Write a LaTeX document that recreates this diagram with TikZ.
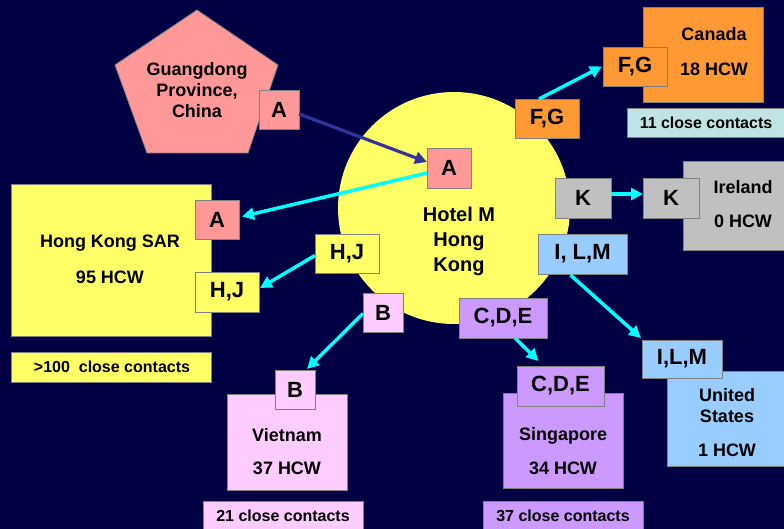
\documentclass[tikz,border=0pt]{standalone}
\usepackage{fontspec}
\setmainfont{Liberation Sans}
\usetikzlibrary{arrows.meta,calc}
\definecolor{bg}{RGB}{0,0,66}
\definecolor{bordergray}{RGB}{128,128,128}
\definecolor{salmon}{RGB}{255,153,153}
\definecolor{yel}{RGB}{255,255,102}
\definecolor{orng}{RGB}{255,153,51}
\definecolor{lcyan}{RGB}{192,228,228}
\definecolor{gry}{RGB}{192,192,192}
\definecolor{lblue}{RGB}{153,204,255}
\definecolor{purp}{RGB}{204,153,255}
\definecolor{pnk}{RGB}{255,204,255}
\definecolor{cyarr}{RGB}{0,255,255}
\definecolor{darr}{RGB}{51,51,153}
\newcommand{\rbox}[7]{\node[boxst, fill=#2, minimum width=#5pt-#3pt, minimum height=#6pt-#4pt] (#1) at ({(#3+#5)/2},{(#4+#6)/2}) {#7};}
\tikzset{
  boxst/.style={draw=bordergray, line width=0.8pt, inner sep=0pt, outer sep=0pt, font=\fontsize{22}{25}\selectfont\bfseries},
  lbl/.style={inner sep=0pt, font=\fontsize{18}{21}\selectfont\bfseries, align=center},
  cnt/.style={inner sep=0pt, font=\fontsize{16}{19}\selectfont\bfseries},
  cyarrow/.style={draw=cyarr, line width=3.5pt, -{Triangle[length=12pt,width=12pt]}},
  darrow/.style={draw=darr, line width=3.2pt, -{Triangle[length=12pt,width=12pt]}},
}
\begin{document}
\begin{tikzpicture}[x=1pt,y=-1pt]
\useasboundingbox (0,0) rectangle (784,529);
\fill[bg] (0,0) rectangle (784,529);
% hotel circle
\node[circle, fill=yel, minimum size=232pt, inner sep=0pt] (circ) at (454,208) {};
\node[lbl, font=\fontsize{20}{25}\selectfont\bfseries] (hotel) at (459,241) {Hotel M\\Hong\\Kong};
% Guangdong
\filldraw[fill=salmon, draw=bordergray, line width=0.8pt] (197,10) -- (278,65) -- (248,153) -- (147,153) -- (115,65) -- cycle;
\node[lbl] (gd) at (197,90) {Guangdong\\Province,\\China};
\rbox{aG}{salmon}{259}{90}{299}{129}{A}
% Canada
\rbox{can}{orng}{643}{7}{763}{102}{}
\node[lbl] (canl) at (714,34) {Canada};
\node[lbl] (canh) at (714,69) {18 HCW};
\rbox{fgCa}{orng}{603}{47}{667}{86}{F,G}
\rbox{canc}{lcyan}{627}{108}{790}{137}{}
\node[cnt] (cancl) at (706,123) {11 close contacts};
% Ireland
\rbox{ire}{gry}{683}{161}{790}{250}{}
\node[lbl] (irel) at (743,187) {Ireland};
\node[lbl] (ireh) at (743,221) {0 HCW};
\rbox{kI}{gry}{643}{178}{699}{218}{K}
% United States
\rbox{us}{lblue}{667}{371}{790}{466}{}
\node[lbl] (usl) at (727,406) {United\\States};
\node[lbl] (ush) at (727,450) {1 HCW};
\rbox{ilmU}{lblue}{642}{340}{722}{378}{I,L,M}
% Singapore
\rbox{sg}{purp}{503}{393}{623}{488}{}
\node[lbl] (sgl) at (563,436) {Singapore};
\node[lbl] (sgh) at (563,468) {34 HCW};
\rbox{cdeS}{purp}{517}{366}{604}{406}{C,D,E}
\rbox{sgc}{purp}{483}{501}{643}{535}{}
\node[cnt] (sgcl) at (563,516) {37 close contacts};
% Vietnam
\rbox{vn}{pnk}{227}{394}{347}{490}{}
\node[lbl] (vnl) at (287,435) {Vietnam};
\node[lbl] (vnh) at (287,468) {37 HCW};
\rbox{bV}{pnk}{275}{370}{315}{409}{B}
\rbox{vnc}{pnk}{203}{501}{363}{535}{}
\node[cnt] (vncl) at (283,516) {21 close contacts};
% Hong Kong SAR
\rbox{hk}{yel}{11}{184}{211}{336}{}
\node[lbl] (hkl) at (110,243) {Hong Kong SAR};
\node[lbl] (hkh) at (110,277) {95 HCW};
\rbox{aHK}{salmon}{195}{200}{239}{239}{A}
\rbox{hjHK}{yel}{195}{272}{259}{312}{H,J}
\rbox{hkc}{yel}{11}{352}{211}{382}{}
\node[cnt] (hkcl) at (112,367) {>100\ \ close contacts};
% boxes on the circle
\rbox{aC}{salmon}{427}{148}{471}{188}{A}
\rbox{fgC}{orng}{515}{99}{579}{138}{F,G}
\rbox{kC}{gry}{555}{178}{611}{218}{K}
\rbox{ilmC}{lblue}{538}{234}{627}{274}{I, L,M}
\rbox{cdeC}{purp}{459}{298}{547}{338}{C,D,E}
\rbox{bC}{pnk}{363}{293}{403}{332}{B}
\rbox{hjC}{yel}{315}{234}{379}{273}{H,J}
% arrows
\draw[darrow] ($(aG.east)+(0,4.5)$) -- ($(aC.west)+(0,-6)$);
\draw[cyarrow] ($(aC.west)+(0,5)$) -- ($(aHK.east)+(3,-3)$);
\draw[cyarrow] ($(hjC.west)+(0,2)$) -- ($(hjHK.east)+(1,-4)$);
\draw[cyarrow] ($(bC.west)+(0,1)$) -- ($(bV.north east)+(-8,-1)$);
\draw[cyarrow] ($(cdeC.south)+(12,0)$) -- ($(cdeS.north)+(-22,-5)$);
\draw[cyarrow] ($(ilmC.south)+(-12,1)$) -- ($(ilmU.north west)+(-1,-2)$);
\draw[cyarrow] ($(kC.east)+(0,-4)$) -- ($(kI.west)+(0,-4)$);
\draw[cyarrow] ($(fgC.north)+(-8,0)$) -- ($(fgCa.west)+(-1,0)$);
\end{tikzpicture}
\end{document}
